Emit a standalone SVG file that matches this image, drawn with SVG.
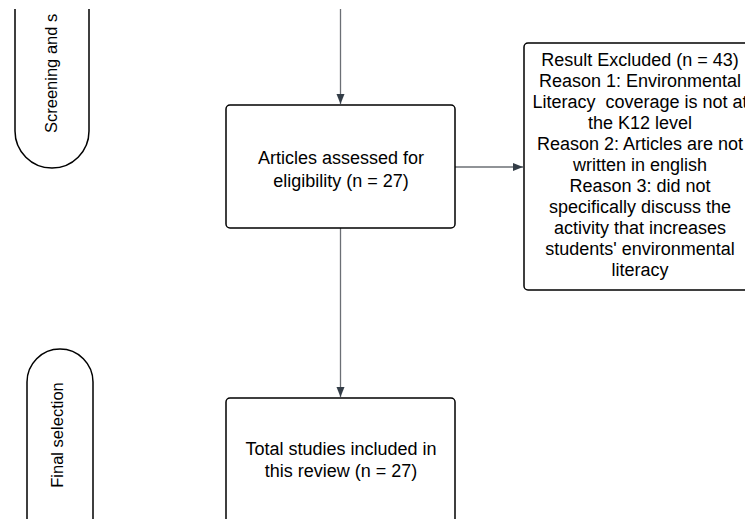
<svg xmlns="http://www.w3.org/2000/svg" width="745" height="519" viewBox="0 0 745 519">
<style>
.box{fill:#fff;stroke:#000;stroke-width:1.5}
.pill{fill:none;stroke:#000;stroke-width:1.5}
.t{font-family:"Liberation Sans",Arial,sans-serif;font-size:18px;fill:#000;text-anchor:middle}
.r{font-family:"Liberation Sans",Arial,sans-serif;font-size:16.5px;fill:#000}
.c{fill:none;stroke:#6b6f75;stroke-width:1.3}
</style>
<defs>
<marker id="ah" viewBox="0 0 10 8" refX="10" refY="4" markerWidth="10" markerHeight="9" markerUnits="userSpaceOnUse" orient="auto">
<path d="M0,0 L10,4 L0,8 Z" fill="#333d47"/>
</marker>
<clipPath id="top"><rect x="0" y="9" width="745" height="510"/></clipPath>
</defs>
<rect width="745" height="519" fill="#fff"/>
<g id="connectors">
<line class="c" x1="340.5" y1="9" x2="340.5" y2="104" marker-end="url(#ah)"/>
<line class="c" x1="455" y1="167" x2="523" y2="167" marker-end="url(#ah)"/>
<line class="c" x1="340.5" y1="228" x2="340.5" y2="397" marker-end="url(#ah)"/>
</g>
<g id="lane-screening" clip-path="url(#top)">
<path class="pill" d="M15,0 V131 A37,37 0 0 0 89,131 V0"/>
<text class="r" transform="translate(57,133) rotate(-90)">Screening and s</text>
</g>
<g id="lane-final">
<path class="pill" d="M27,540 V382 A33,33 0 0 1 93,382 V540"/>
<text class="r" text-anchor="middle" transform="translate(63,435) rotate(-90)">Final selection</text>
</g>
<g id="assessed">
<rect class="box" x="226" y="105" width="229" height="123" rx="4"/>
<text class="t" x="341" y="164">Articles assessed for</text>
<text class="t" x="341" y="186.5">eligibility (n = 27)</text>
</g>
<g id="excluded">
<rect class="box" x="524" y="43" width="232" height="247" rx="4"/>
<text class="t" xml:space="preserve" x="640" y="66">Result Excluded (n = 43)</text>
<text class="t" xml:space="preserve" x="640" y="87">Reason 1: Environmental</text>
<text class="t" xml:space="preserve" x="640" y="108">Literacy  coverage is not at</text>
<text class="t" xml:space="preserve" x="640" y="129">the K12 level</text>
<text class="t" xml:space="preserve" x="640" y="150">Reason 2: Articles are not</text>
<text class="t" xml:space="preserve" x="640" y="171">written in english</text>
<text class="t" xml:space="preserve" x="640" y="192">Reason 3: did not</text>
<text class="t" xml:space="preserve" x="640" y="213">specifically discuss the</text>
<text class="t" xml:space="preserve" x="640" y="234">activity that increases</text>
<text class="t" xml:space="preserve" x="640" y="255">students' environmental</text>
<text class="t" xml:space="preserve" x="640" y="276">literacy</text>
</g>
<g id="included">
<rect class="box" x="226" y="398" width="229" height="140" rx="4"/>
<text class="t" x="341" y="455">Total studies included in</text>
<text class="t" x="341" y="477">this review (n = 27)</text>
</g>
</svg>
